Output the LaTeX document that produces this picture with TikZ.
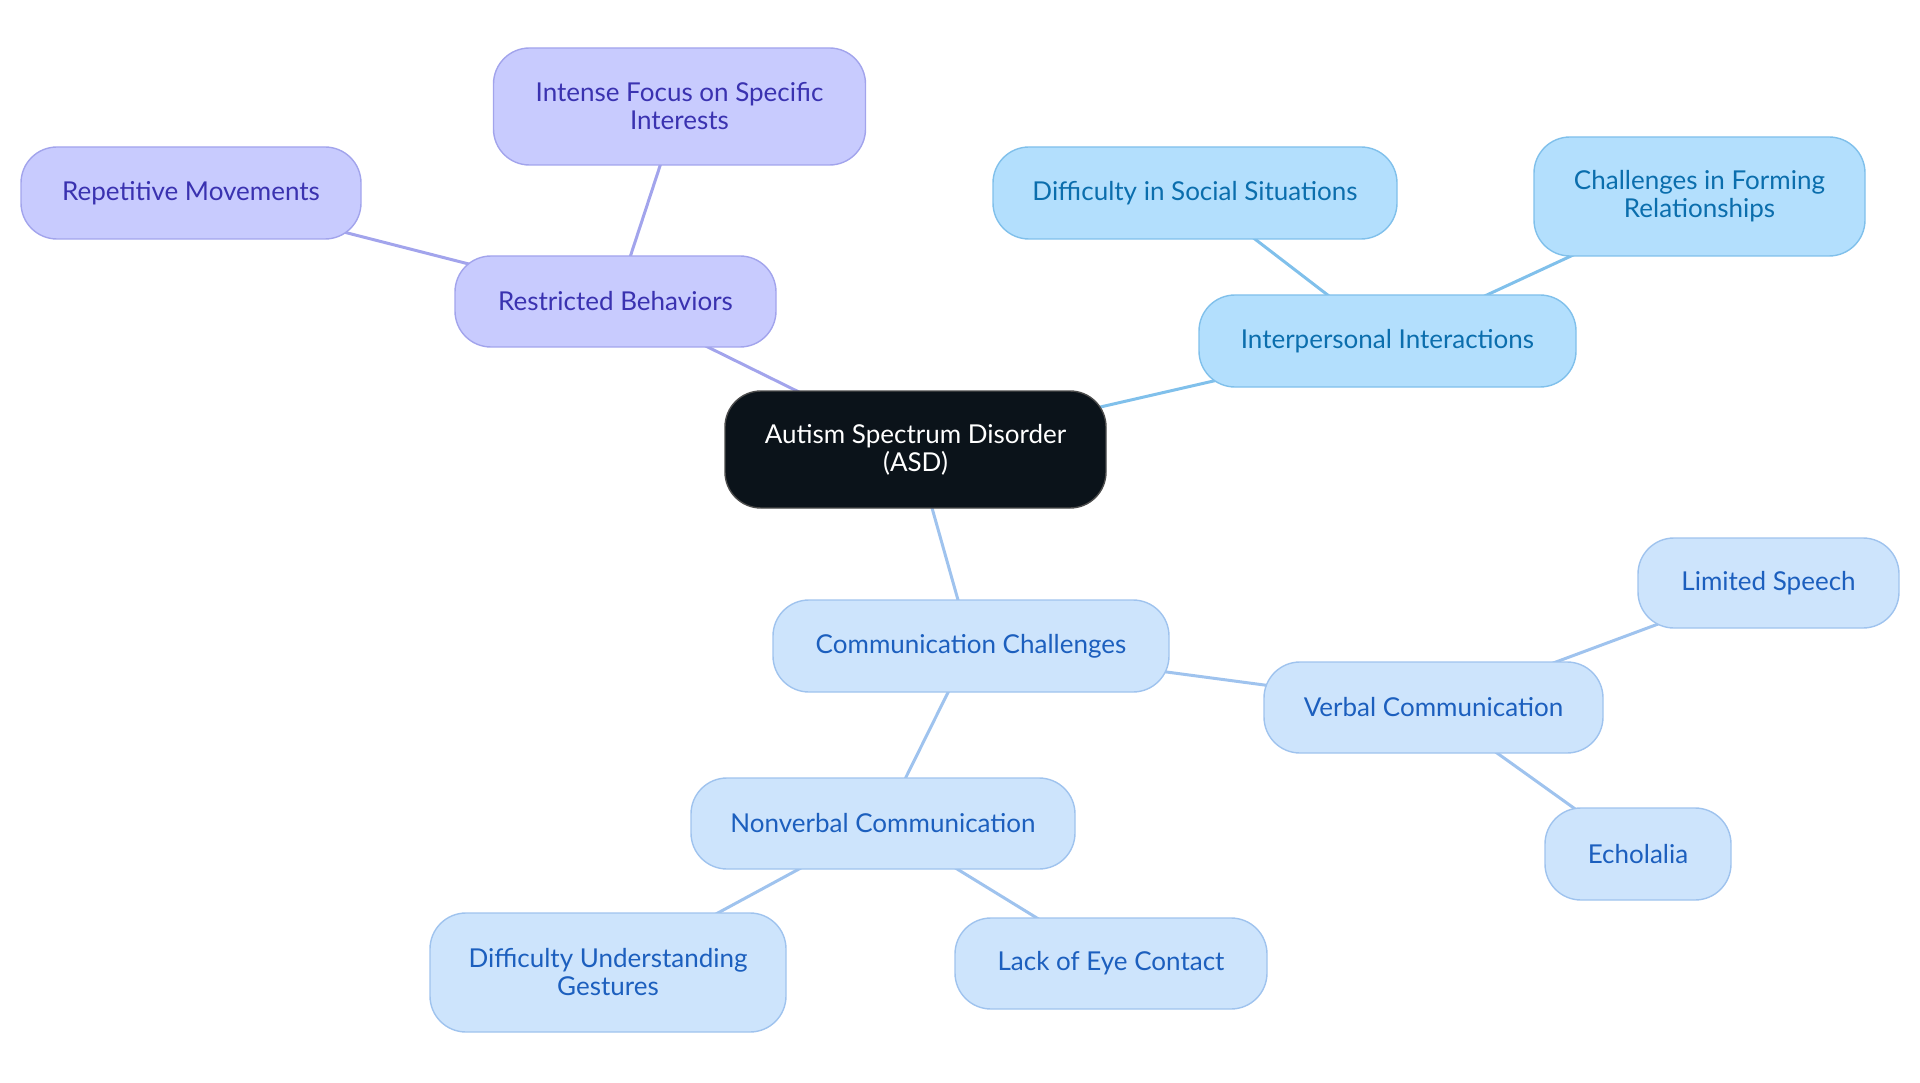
\documentclass[tikz,border=0pt]{standalone}
\usepackage{fontspec}
\setmainfont{Lato}
\usepackage{tikz}
\usetikzlibrary{positioning, calc, backgrounds}
\usepackage{xcolor}
\definecolor{pfill}{HTML}{C8CBFE}
\definecolor{pdraw}{HTML}{A2A4EC}
\definecolor{ptext}{HTML}{3A32B0}
\definecolor{sfill}{HTML}{B3DFFD}
\definecolor{sdraw}{HTML}{80C0EB}
\definecolor{stext}{HTML}{0B6EAD}
\definecolor{cfill}{HTML}{CDE4FC}
\definecolor{cdraw}{HTML}{9FC3EE}
\definecolor{ctext}{HTML}{1C5FBE}
\definecolor{hubfill}{HTML}{0B131A}

\begin{document}
\begin{tikzpicture}[
  x=1pt, y=-1pt,
  font=\fontsize{26}{28}\selectfont,
  box/.style={rounded corners=36pt, line width=1.4pt, align=center, inner sep=0pt},
  hub/.style={box, draw=black!70, fill=hubfill, text=white},
  purp/.style={box, draw=pdraw, fill=pfill, text=ptext},
  sky/.style={box, draw=sdraw, fill=sfill, text=stext},
  com/.style={box, draw=cdraw, fill=cfill, text=ctext},
  pline/.style={draw=pdraw, line width=3pt},
  sline/.style={draw=sdraw, line width=3pt},
  cline/.style={draw=cdraw, line width=3pt},
]
  \useasboundingbox (0,0) rectangle (1920,1083);
  % centre
  \node[hub, minimum width=381pt, minimum height=117pt] (asd) at (915.5,449.5) {Autism Spectrum Disorder\\(ASD)};
  % restricted behaviours
  \node[purp, minimum width=321pt, minimum height=91pt] (rb) at (615.5,301.5) {Restricted Behaviors};
  \node[purp, minimum width=372pt, minimum height=117pt] (ifs) at (679.5,106.5) {Intense Focus on Specific\\Interests};
  \node[purp, minimum width=340pt, minimum height=92pt] (rm) at (191,193) {Repetitive Movements};
  % interpersonal
  \node[sky, minimum width=377pt, minimum height=92pt] (ii) at (1387.5,341) {Interpersonal Interactions};
  \node[sky, minimum width=404pt, minimum height=92pt] (dss) at (1195,193) {Difficulty in Social Situations};
  \node[sky, minimum width=331pt, minimum height=119pt] (cfr) at (1699.5,196.5) {Challenges in Forming\\Relationships};
  % communication
  \node[com, minimum width=396pt, minimum height=92pt] (cc) at (971,646) {Communication Challenges};
  \node[com, minimum width=339pt, minimum height=91pt] (vc) at (1433.5,707.5) {Verbal Communication};
  \node[com, minimum width=261pt, minimum height=90pt] (ls) at (1768.5,583) {Limited Speech};
  \node[com, minimum width=186pt, minimum height=92pt] (ec) at (1638,854) {Echolalia};
  \node[com, minimum width=384pt, minimum height=91pt] (nc) at (883,823.5) {Nonverbal Communication};
  \node[com, minimum width=356pt, minimum height=119pt] (dug) at (608,972.5) {Difficulty Understanding\\Gestures};
  \node[com, minimum width=312pt, minimum height=91pt] (lec) at (1111,963.5) {Lack of Eye Contact};

  \begin{scope}[on background layer]
    \path[pline] (asd.center) -- (rb.center); \path[pline] (rb.center) -- (ifs.center); \path[pline] (rb.center) -- (rm.center);
    \path[sline] (asd.center) -- (ii.center); \path[sline] (ii.center) -- (dss.center); \path[sline] (ii.center) -- (cfr.center);
    \path[cline] (asd.center) -- (cc.center); \path[cline] (cc.center) -- (vc.center); \path[cline] (cc.center) -- (nc.center);
    \path[cline] (vc.center) -- (ls.center); \path[cline] (vc.center) -- (ec.center);
    \path[cline] (nc.center) -- (dug.center); \path[cline] (nc.center) -- (lec.center);
  \end{scope}
\end{tikzpicture}
\end{document}
